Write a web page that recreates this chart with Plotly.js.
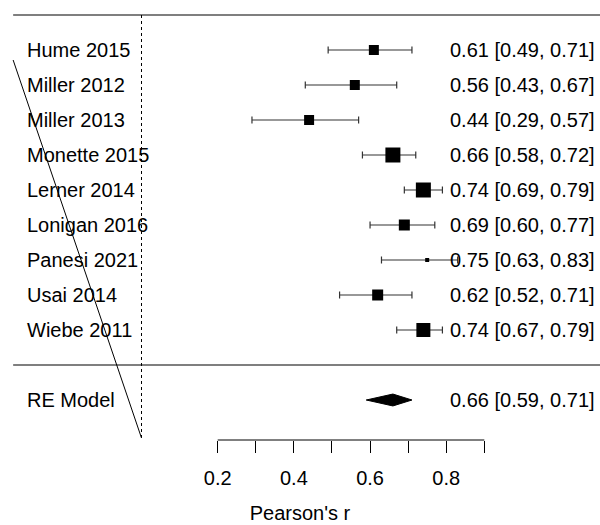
<!DOCTYPE html>
<html>
<head>
<meta charset="utf-8">
<script src="https://cdn.plot.ly/plotly-3.0.1.min.js"></script>
<style>html,body{margin:0;padding:0;background:#fff;}#chart{width:600px;height:525px;}</style>
</head>
<body>
<div id="chart"></div>
<script>
// ---- data ----
const studies = ["Hume 2015", "Miller 2012", "Miller 2013", "Monette 2015", "Lerner 2014",
                 "Lonigan 2016", "Panesi 2021", "Usai 2014", "Wiebe 2011"];
const estimates = [0.61, 0.56, 0.44, 0.66, 0.74, 0.69, 0.75, 0.62, 0.74];
const ciLower   = [0.49, 0.43, 0.29, 0.58, 0.69, 0.60, 0.63, 0.52, 0.67];
const ciUpper   = [0.71, 0.67, 0.57, 0.72, 0.79, 0.77, 0.83, 0.71, 0.79];
const weights   = [10, 10, 10, 15, 15, 11, 4, 11, 14];   // relative study weights (estimated)
const modelLabel = "RE Model";
const modelEst = 0.66, modelLower = 0.59, modelUpper = 0.71;
const tickValues = [0.2, 0.3, 0.4, 0.5, 0.6, 0.7, 0.8, 0.9];
const tickLabels = ["0.2", "", "0.4", "", "0.6", "", "0.8", ""];
const xTitle = "Pearson's r";

// ---- layout helpers ----
const FONT = {family: "Liberation Sans, Arial, sans-serif", size: 20, color: "#000"};
const k = studies.length;
const rows = studies.map((_, i) => k - i);   // 9..1
const modelRow = -1;
const topRow = k + 1;
const xLeftText = -0.306, xRightText = 1.197, xLineStart = -0.337;
const xr = [-0.3715, 1.2037];
const yr = [-2.143, 10.4286];
const fmt = v => v.toFixed(2);
const ciText = (e, l, u) => fmt(e) + " [" + fmt(l) + ", " + fmt(u) + "]";

const studyTrace = {
  type: "scatter", mode: "markers",
  x: estimates, y: rows,
  marker: {symbol: "square", size: weights, color: "#000", opacity: 1, line: {width: 0}},
  error_x: {
    type: "data", symmetric: false,
    array: estimates.map((e, i) => ciUpper[i] - e),
    arrayminus: estimates.map((e, i) => e - ciLower[i]),
    color: "#333", thickness: 1.2, width: 3.5
  },
  hoverinfo: "skip", showlegend: false
};

const dh = 0.17;
const diamond = {
  type: "scatter", mode: "lines",
  x: [modelLower, modelEst, modelUpper, modelEst, modelLower],
  y: [modelRow, modelRow + dh, modelRow, modelRow - dh, modelRow],
  fill: "toself", fillcolor: "#000", line: {color: "#000", width: 1},
  hoverinfo: "skip", showlegend: false
};

const annotations = [];
studies.forEach((s, i) => {
  annotations.push({x: xLeftText, y: rows[i], xref: "x", yref: "y", text: s,
    showarrow: false, xanchor: "left", yanchor: "middle", font: FONT});
  annotations.push({x: xRightText, y: rows[i], xref: "x", yref: "y",
    text: ciText(estimates[i], ciLower[i], ciUpper[i]),
    showarrow: false, xanchor: "right", yanchor: "middle", font: FONT});
});
annotations.push({x: xLeftText, y: modelRow, xref: "x", yref: "y", text: modelLabel,
  showarrow: false, xanchor: "left", yanchor: "middle", font: FONT});
annotations.push({x: xRightText, y: modelRow, xref: "x", yref: "y",
  text: ciText(modelEst, modelLower, modelUpper),
  showarrow: false, xanchor: "right", yanchor: "middle", font: FONT});

const shapes = [
  {type: "line", xref: "x", yref: "y", x0: xLineStart, x1: xr[1], y0: topRow, y1: topRow,
   line: {color: "#000", width: 1.2}},
  {type: "line", xref: "x", yref: "y", x0: xLineStart, x1: xr[1], y0: 0, y1: 0,
   line: {color: "#000", width: 1.2}},
  {type: "line", xref: "x", yref: "y", x0: 0, x1: 0, y0: topRow, y1: -2.08,
   line: {color: "#000", width: 1, dash: "dot"}},
  {type: "line", xref: "x", yref: "y", x0: xLineStart, y0: 8.714, x1: 0.0, y1: -2.086,
   line: {color: "#000", width: 1}},
  {type: "line", xref: "x", yref: "paper", x0: tickValues[0], x1: tickValues[tickValues.length - 1],
   y0: 0, y1: 0, line: {color: "#000", width: 1}}
];

const layout = {
  width: 600, height: 525,
  margin: {l: 0, r: 0, t: 0, b: 85},
  paper_bgcolor: "#fff", plot_bgcolor: "#fff",
  font: FONT,
  showlegend: false,
  hovermode: false,
  xaxis: {
    range: xr, showgrid: false, zeroline: false, showline: false,
    tickmode: "array", tickvals: tickValues, ticktext: tickLabels,
    ticks: "outside", ticklen: 12, tickwidth: 1, tickcolor: "#000",
    ticklabelstandoff: 8,
    tickfont: FONT,
    title: {text: xTitle, font: FONT, standoff: 17}
  },
  yaxis: {range: yr, visible: false, showgrid: false, zeroline: false},
  annotations: annotations,
  shapes: shapes
};

Plotly.newPlot("chart", [studyTrace, diamond], layout, {displayModeBar: false, staticPlot: true});
</script>
</body>
</html>
